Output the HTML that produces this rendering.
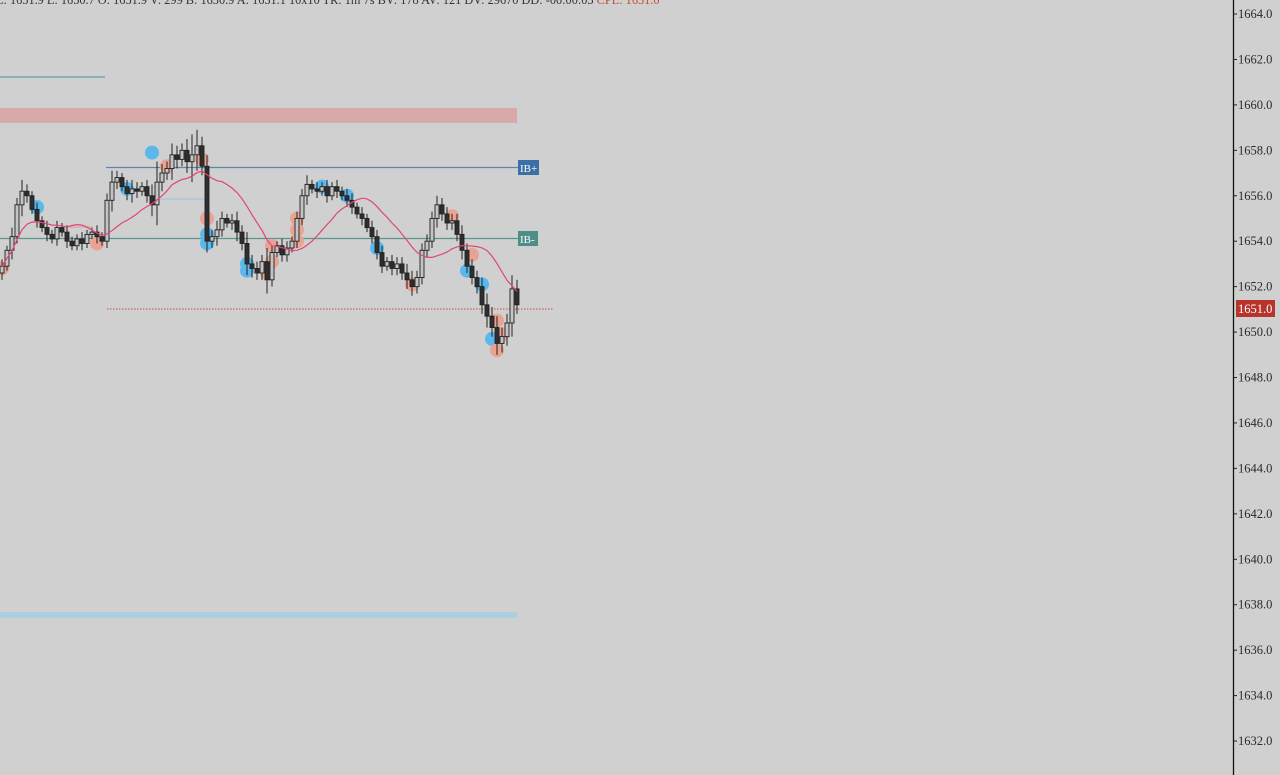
<!DOCTYPE html>
<html><head><meta charset="utf-8">
<style>
html,body{margin:0;padding:0;background:#d0d0d0;width:1280px;height:775px;overflow:hidden}
svg{display:block}
text{font-family:"Liberation Serif",serif}
</style></head>
<body>
<svg id="chart" width="1280" height="775" viewBox="0 0 1280 775">
<rect x="0" y="0" width="1280" height="775" fill="#d0d0d0"/>
<text x="-4" y="4" font-size="12.3" fill="#333">L: 1651.9 L: 1650.7 O: 1651.9 V: 299 B: 1650.9 A: 1651.1 10x10 TR: 1m 7s BV: 178 AV: 121 DV: 29670 DD: -00:00:03 <tspan fill="#c84a30">CPL: 1651.0</tspan></text>
<line x1="0" y1="77" x2="105" y2="77" stroke="#5f9cb0" stroke-width="1.2"/>
<rect x="0" y="108" width="517" height="15" fill="#d8a9a9"/>
<rect x="0" y="612" width="517" height="6" fill="#a9d0dc"/>
<line x1="106" y1="167.5" x2="518" y2="167.5" stroke="#5b86ad" stroke-width="1.3"/>
<rect x="518" y="160" width="21" height="15" fill="#3c6fa6"/>
<text x="520" y="172" font-size="11" fill="#fff">IB+</text>
<line x1="0" y1="238.5" x2="518" y2="238.5" stroke="#5a9590" stroke-width="1.3"/>
<rect x="518" y="231" width="20" height="15" fill="#4f8d87"/>
<text x="520" y="243" font-size="11" fill="#fff">IB-</text>
<line x1="160" y1="199" x2="205" y2="199" stroke="#9cc6dc" stroke-width="1.2"/>
<line x1="65" y1="227" x2="92" y2="227" stroke="#e2a39a" stroke-width="1.2"/>
<line x1="107" y1="309" x2="553" y2="309" stroke="#c5503e" stroke-width="1" stroke-dasharray="1.5,1.5"/>
<g id="marks"></g>
<line x1="1233.5" y1="0" x2="1233.5" y2="775" stroke="#111" stroke-width="1.3"/>
<g id="axis"></g>
<rect x="1236" y="300" width="39" height="17" fill="#b8332c"/>
<text x="1238" y="313" font-size="12.5" fill="#fff">1651.0</text>
</svg>
<script>
const ticks = [1664,1662,1660,1658,1656,1654,1652,1650,1648,1646,1644,1642,1640,1638,1636,1634,1632];
const closes = [1652.9,1653.6,1654.2,1655.6,1656.2,1656.0,1655.4,1654.9,1654.6,1654.3,1654.1,1654.6,1654.4,1654.0,1653.8,1654.1,1653.9,1654.3,1654.4,1654.2,1654.0,1655.8,1656.6,1656.8,1656.4,1656.1,1656.3,1656.2,1656.4,1656.0,1655.6,1656.6,1657.0,1657.2,1657.8,1657.6,1658.0,1657.5,1657.8,1658.2,1657.3,1654.0,1654.2,1654.5,1655.0,1654.8,1654.9,1654.4,1653.9,1653.0,1652.8,1652.6,1653.1,1652.3,1653.5,1653.8,1653.4,1653.7,1654.0,1655.0,1656.0,1656.5,1656.3,1656.2,1656.4,1656.0,1656.4,1656.2,1656.0,1655.8,1655.5,1655.2,1655.0,1654.6,1654.2,1653.5,1652.9,1653.1,1652.8,1653.0,1652.6,1652.3,1652.0,1652.4,1653.6,1654.0,1655.0,1655.6,1655.2,1654.8,1654.9,1654.3,1653.6,1652.9,1652.4,1652.0,1651.2,1650.7,1650.2,1649.5,1649.8,1650.4,1651.9,1651.2];
const wicks = [0.3,0.2,0.4,0.3,0.5,0.3,0.2,0.3,0.2,0.3,0.2,0.3,0.2,0.3,0.2,0.2,0.3,0.2,0.2,0.3,0.2,0.3,0.5,0.3,0.2,0.3,0.4,0.3,0.2,0.3,0.5,0.9,0.4,0.3,0.5,0.4,0.3,0.5,0.9,0.7,0.4,0.5,0.3,0.4,0.3,0.2,0.3,0.4,0.3,0.5,0.4,0.3,0.3,0.6,0.3,0.2,0.3,0.3,0.2,0.3,0.3,0.4,0.2,0.3,0.2,0.3,0.2,0.3,0.2,0.3,0.3,0.2,0.3,0.2,0.3,0.3,0.3,0.2,0.3,0.3,0.3,0.4,0.4,0.3,0.3,0.3,0.3,0.4,0.3,0.3,0.3,0.3,0.4,0.3,0.3,0.3,0.4,0.5,0.4,0.5,0.4,0.4,0.6,0.4];
const buyMarkers = [[30,1657.9],[25,1656.3],[7,1655.5],[41,1654.3],[41,1653.9],[49,1653.0],[49,1652.7],[64,1656.4],[69,1656.0],[75,1653.7],[93,1652.7],[96,1652.1],[98,1649.7]];
const sellMarkers = [[0,1652.8],[19,1653.9],[41,1655.0],[59,1655.0],[59,1654.5],[54,1653.8],[54,1653.1],[53,1652.6],[59,1654.0],[82,1652.1],[90,1655.1],[94,1653.4],[99,1650.5],[100,1649.9],[99,1649.2],[40,1657.6],[33,1657.3]];
const maPeriod = 14;

const NS = "http://www.w3.org/2000/svg";
const yOf = p => 14 + (1664 - p) * 22.72;
const xOf = i => 2 + i * 5;
const marks = document.getElementById('marks');
const axis = document.getElementById('axis');
function mk(tag, attrs, parent){const e=document.createElementNS(NS,tag);for(const k in attrs)e.setAttribute(k,attrs[k]);parent.appendChild(e);return e;}

ticks.forEach(t=>{
  const y=yOf(t);
  const l=mk('line',{x1:1233,x2:1237,y1:y,y2:y,stroke:'#222','stroke-width':1},axis);
  
  
  const tx=mk('text',{x:1238,y:y+4,'font-size':12.5,fill:'#2a2a2a'},axis);
  tx.textContent=t.toFixed(1);
  
  
});

const mg = mk('g',{},marks);
buyMarkers.forEach(m=>{
  const c=mk('circle',{cx:xOf(m[0]),cy:yOf(m[1]),r:7,fill:'#5ab8ea'},mg);
  
  
});
sellMarkers.forEach(m=>{
  const c=mk('circle',{cx:xOf(m[0]),cy:yOf(m[1]),r:7,fill:'#e9a393'},mg);
  
  
});

closes.forEach((c,i)=>{
  const o = i===0 ? c-0.3 : closes[i-1];
  const hi=Math.max(o,c)+wicks[i], lo=Math.min(o,c)-wicks[i];
  const x=xOf(i);
  const g=mk('g',{},marks);
  
  
  const up=c>=o;
  mk('line',{x1:x,x2:x,y1:yOf(hi),y2:yOf(lo),stroke:'#222','stroke-width':1},g);
  const top=yOf(Math.max(o,c)), h=Math.max(1,yOf(Math.min(o,c))-top);
  mk('rect',{x:x-2,y:top,width:4,height:h,fill:up?'#c4c4c4':'#2e2e2e',stroke:'#222','stroke-width':0.9},g);
});

let d='';
closes.forEach((c,i)=>{
  const s=Math.max(0,i-maPeriod+1);
  const sl=closes.slice(s,i+1);
  const a=sl.reduce((p,q)=>p+q,0)/sl.length;
  d+=(i?'L':'M')+xOf(i)+','+yOf(a).toFixed(1);
});
const ma=mk('path',{d:d,fill:'none',stroke:'#e0457a','stroke-width':1.2},marks);


</script>
</body></html>
